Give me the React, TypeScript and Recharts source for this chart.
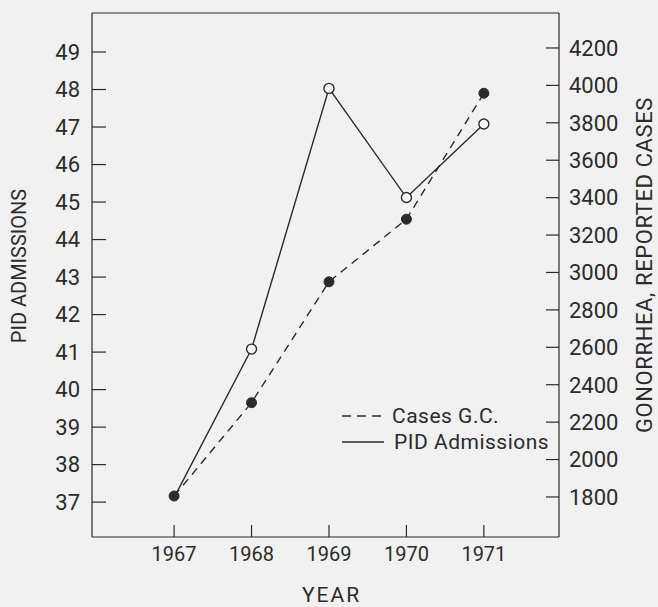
import React from 'react';
import { ComposedChart, Line, XAxis, YAxis, Legend, ReferenceLine, Label } from 'recharts';

const years = [1967, 1968, 1969, 1970, 1971];
const pidAdmissions = [37.12, 41.08, 48.03, 45.12, 47.08];
const gonorrheaCases = [1805, 2304, 2950, 3285, 3958];
const leftTicks = [37, 38, 39, 40, 41, 42, 43, 44, 45, 46, 47, 48, 49];
const rightTicks = [1800, 2000, 2200, 2400, 2600, 2800, 3000, 3200, 3400, 3600, 3800, 4000, 4200];
const seriesNames = ['Cases G.C.', 'PID Admissions'];
const leftDomain = [36.07, 50.04];
const rightDomain = [1586, 4387];
const xDomain = [1965.94, 1971.97];

const data = years.map((year, i) => ({ year, pid: pidAdmissions[i], cases: gonorrheaCases[i] }));

const INK = '#2b2b2b';
const FONT = 'Roboto, "DejaVu Sans", sans-serif';

const OpenDot = (props: any) => {
  const { cx, cy, index } = props;
  if (index === 0 || cx == null || cy == null) return <g key={`o${index}`} />;
  return <circle key={`o${index}`} cx={cx} cy={cy} r={5} fill="#f7f7f7" stroke={INK} strokeWidth={1.4} />;
};

const FilledDot = (props: any) => {
  const { cx, cy, index } = props;
  if (cx == null || cy == null) return <g key={`f${index}`} />;
  return <circle key={`f${index}`} cx={cx} cy={cy} r={5} fill={INK} stroke={INK} strokeWidth={1} />;
};

const LegendContent = () => (
  <svg width={215} height={58} style={{ display: 'block' }}>
    <line x1={2} x2={42} y1={16} y2={16} stroke={INK} strokeWidth={1.4} strokeDasharray="9 6" />
    <text x={52} y={16} dominantBaseline="central" fontSize={21} fontFamily={FONT} fill={INK} letterSpacing={0.5}>
      {seriesNames[0]}
    </text>
    <line x1={2} x2={44} y1={42} y2={42} stroke={INK} strokeWidth={1.4} />
    <text x={54} y={42} dominantBaseline="central" fontSize={21} fontFamily={FONT} fill={INK} letterSpacing={0.5}>
      {seriesNames[1]}
    </text>
  </svg>
);

const leftTitle = (p: any) => {
  const vb = p.viewBox || {};
  const cx = 19;
  const cy = vb.y + vb.height / 2 - 9;
  return (
    <text x={cx} y={cy} transform={`rotate(-90, ${cx}, ${cy})`} textAnchor="middle" dominantBaseline="central"
      fontSize={20} fontFamily={FONT} fill={INK}>
      PID ADMISSIONS
    </text>
  );
};

const rightTitle = (p: any) => {
  const vb = p.viewBox || {};
  const cx = vb.x + 85;
  const cy = vb.y + vb.height / 2 - 10;
  return (
    <text x={cx} y={cy} transform={`rotate(-90, ${cx}, ${cy})`} textAnchor="middle" dominantBaseline="central"
      fontSize={22} fontFamily={FONT} fill={INK} letterSpacing={0.6}>
      GONORRHEA, REPORTED CASES
    </text>
  );
};

const bottomTitle = (p: any) => {
  const vb = p.viewBox || {};
  const cx = vb.x + vb.width / 2 + 6;
  const cy = vb.y + 58;
  return (
    <text x={cx} y={cy} textAnchor="middle" dominantBaseline="central"
      fontSize={21} fontFamily={FONT} fill={INK} letterSpacing={2}>
      YEAR
    </text>
  );
};

export default function App() {
  return (
    <div style={{ position: 'absolute', left: 0, top: 0, width: 658, height: 607, background: '#f1f1f1' }}>
      <ComposedChart width={658} height={607} data={data} margin={{ top: 13, right: 0, bottom: 0, left: 0 }}>
        <XAxis
          dataKey="year"
          type="number"
          domain={xDomain}
          allowDataOverflow
          ticks={years}
          height={70}
          tickSize={-12}
          tickMargin={22}
          axisLine={{ stroke: INK, strokeWidth: 1.2 }}
          tickLine={{ stroke: INK, strokeWidth: 1.2 }}
          tick={{ fill: INK, fontSize: 20, fontFamily: FONT }}
          label={<Label content={bottomTitle} />}
        />
        <YAxis
          yAxisId="left"
          orientation="left"
          type="number"
          domain={leftDomain}
          allowDataOverflow
          ticks={leftTicks}
          width={92}
          tickSize={-14}
          tickMargin={26}
          axisLine={{ stroke: INK, strokeWidth: 1.2 }}
          tickLine={{ stroke: INK, strokeWidth: 1.2 }}
          tick={{ fill: INK, fontSize: 22, fontFamily: FONT }}
          label={<Label content={leftTitle} />}
        />
        <YAxis
          yAxisId="right"
          orientation="right"
          type="number"
          domain={rightDomain}
          allowDataOverflow
          ticks={rightTicks}
          width={99}
          tickSize={-13}
          tickMargin={23}
          axisLine={{ stroke: INK, strokeWidth: 1.2 }}
          tickLine={{ stroke: INK, strokeWidth: 1.2 }}
          tick={{ fill: INK, fontSize: 22, fontFamily: FONT }}
          label={<Label content={rightTitle} />}
        />
        <ReferenceLine yAxisId="left" y={leftDomain[1]} stroke={INK} strokeWidth={1.2} />
        <Legend
          layout="horizontal"
          verticalAlign="middle"
          align="center"
          content={LegendContent}
          wrapperStyle={{ left: 340, top: 400, width: 'auto', height: 'auto' }}
        />
        <Line
          yAxisId="left"
          dataKey="pid"
          name={seriesNames[1]}
          stroke={INK}
          strokeWidth={1.4}
          dot={OpenDot}
          activeDot={false}
          isAnimationActive={false}
        />
        <Line
          yAxisId="right"
          dataKey="cases"
          name={seriesNames[0]}
          stroke={INK}
          strokeWidth={1.4}
          strokeDasharray="8 6"
          dot={FilledDot}
          activeDot={false}
          isAnimationActive={false}
        />
      </ComposedChart>
    </div>
  );
}
